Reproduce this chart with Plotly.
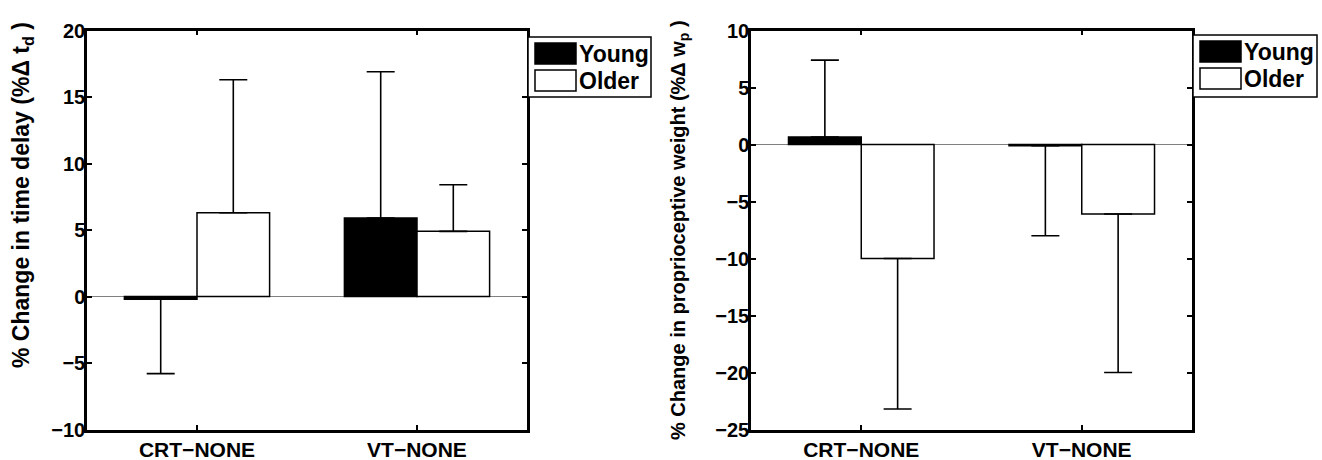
import plotly.graph_objects as go

W, H = 1322, 460

categories = ["CRT−NONE", "VT−NONE"]
groups = ["Young", "Older"]

# Left panel: % change in time delay
td_young = [-0.2, 5.9]
td_older = [6.3, 4.9]
td_young_err = [5.6, 11.0]
td_older_err = [10.0, 3.5]

# Right panel: % change in proprioceptive weight
wp_young = [0.65, -0.1]
wp_older = [-10.0, -6.1]
wp_young_err = [6.75, 7.9]
wp_older_err = [13.2, 13.9]

left_ticks = [-10, -5, 0, 5, 10, 15, 20]
right_ticks = [-25, -20, -15, -10, -5, 0, 5, 10]

FONT = "Liberation Sans"
fills = {"Young": "black", "Older": "white"}


def one_sided(vals, errs):
    plus = [e if v >= 0 else 0 for v, e in zip(vals, errs)]
    minus = [e if v < 0 else 0 for v, e in zip(vals, errs)]
    return plus, minus


def px(x):
    return x / W


def py(y):
    return 1 - y / H


def tick_text(vals):
    return ["<b>%s</b>" % (str(v).replace("-", "−")) for v in vals]


fig = go.Figure()

panels = [
    ("x", "y", {"Young": (td_young, td_young_err), "Older": (td_older, td_older_err)}),
    ("x2", "y2", {"Young": (wp_young, wp_young_err), "Older": (wp_older, wp_older_err)}),
]
for xa, ya, data in panels:
    for g in groups:
        vals, errs = data[g]
        plus, minus = one_sided(vals, errs)
        fig.add_trace(go.Bar(
            x=categories, y=vals, name=g, xaxis=xa, yaxis=ya,
            marker=dict(color=fills[g], line=dict(color="black", width=1.5)),
            error_y=dict(type="data", symmetric=False, array=plus, arrayminus=minus,
                         color="black", thickness=1.6, width=14),
            showlegend=False,
        ))

ydom = [1 - 429.5 / H, 1 - 30.5 / H]
axis_common = dict(
    showline=True, linecolor="black", linewidth=2.5, mirror="ticks",
    ticks="inside", ticklen=5, tickwidth=1.5, tickcolor="black",
    showgrid=False, automargin=False,
)
yfont = dict(family=FONT, size=20, color="black")
xfont = dict(family=FONT, size=21, color="black")
fig.update_layout(
    width=W, height=H,
    margin=dict(l=0, r=0, t=0, b=0, autoexpand=False),
    paper_bgcolor="white", plot_bgcolor="white",
    barmode="group", bargap=0.34, bargroupgap=0,
    xaxis=dict(domain=[px(87), px(527)], anchor="y", range=[-0.5, 1.5],
               tickvals=categories, ticktext=tick_text(categories),
               zeroline=False, tickfont=xfont, **axis_common),
    yaxis=dict(domain=ydom, anchor="x", range=[-10, 20], tickvals=left_ticks,
               ticktext=tick_text(left_ticks),
               zeroline=True, zerolinecolor="#808080", zerolinewidth=1,
               tickfont=yfont, **axis_common),
    xaxis2=dict(domain=[px(751), px(1192)], anchor="y2", range=[-0.5, 1.5],
                tickvals=categories, ticktext=tick_text(categories),
                zeroline=False, tickfont=xfont, **axis_common),
    yaxis2=dict(domain=ydom, anchor="x2", range=[-25, 10], tickvals=right_ticks,
                ticktext=tick_text(right_ticks),
                zeroline=True, zerolinecolor="#808080", zerolinewidth=1,
                tickfont=yfont, **axis_common),
)
try:
    fig.update_yaxes(ticklabelstandoff=-5)
except Exception:
    pass

annotations = [
    dict(text="<b>% Change in time delay (%Δ t<sub>d</sub> )</b>",
         xref="paper", yref="paper", x=px(22), y=py(195),
         textangle=-90, showarrow=False, xanchor="center", yanchor="middle",
         font=dict(family=FONT, size=23, color="black")),
    dict(text="<b>% Change in proprioceptive weight (%Δ w<sub>p</sub> )</b>",
         xref="paper", yref="paper", x=px(679), y=py(230),
         textangle=-90, showarrow=False, xanchor="center", yanchor="middle",
         font=dict(family=FONT, size=20, color="black")),
]

shapes = []
legend_boxes = [(528, 651, 37, 97), (1193, 1317, 35, 97)]
for (x0, x1, y0, y1) in legend_boxes:
    shapes.append(dict(type="rect", xref="paper", yref="paper",
                       x0=px(x0), x1=px(x1), y0=py(y1), y1=py(y0),
                       line=dict(color="black", width=1.5), fillcolor="white"))
    for i, g in enumerate(groups):
        sy0 = y0 + 6 + i * 27
        shapes.append(dict(type="rect", xref="paper", yref="paper",
                           x0=px(x0 + 7), x1=px(x0 + 48), y0=py(sy0 + 21), y1=py(sy0),
                           line=dict(color="black", width=1.5), fillcolor=fills[g]))
        annotations.append(dict(text="<b>%s</b>" % g, xref="paper", yref="paper",
                                x=px(x0 + 49), y=py(sy0 + 11),
                                xanchor="left", yanchor="middle", showarrow=False,
                                font=dict(family=FONT, size=23, color="black")))

fig.update_layout(annotations=annotations, shapes=shapes)

fig.write_html("out.html", config={"displayModeBar": False},
               post_script="document.body.style.margin='0';document.body.style.overflow='hidden';")
